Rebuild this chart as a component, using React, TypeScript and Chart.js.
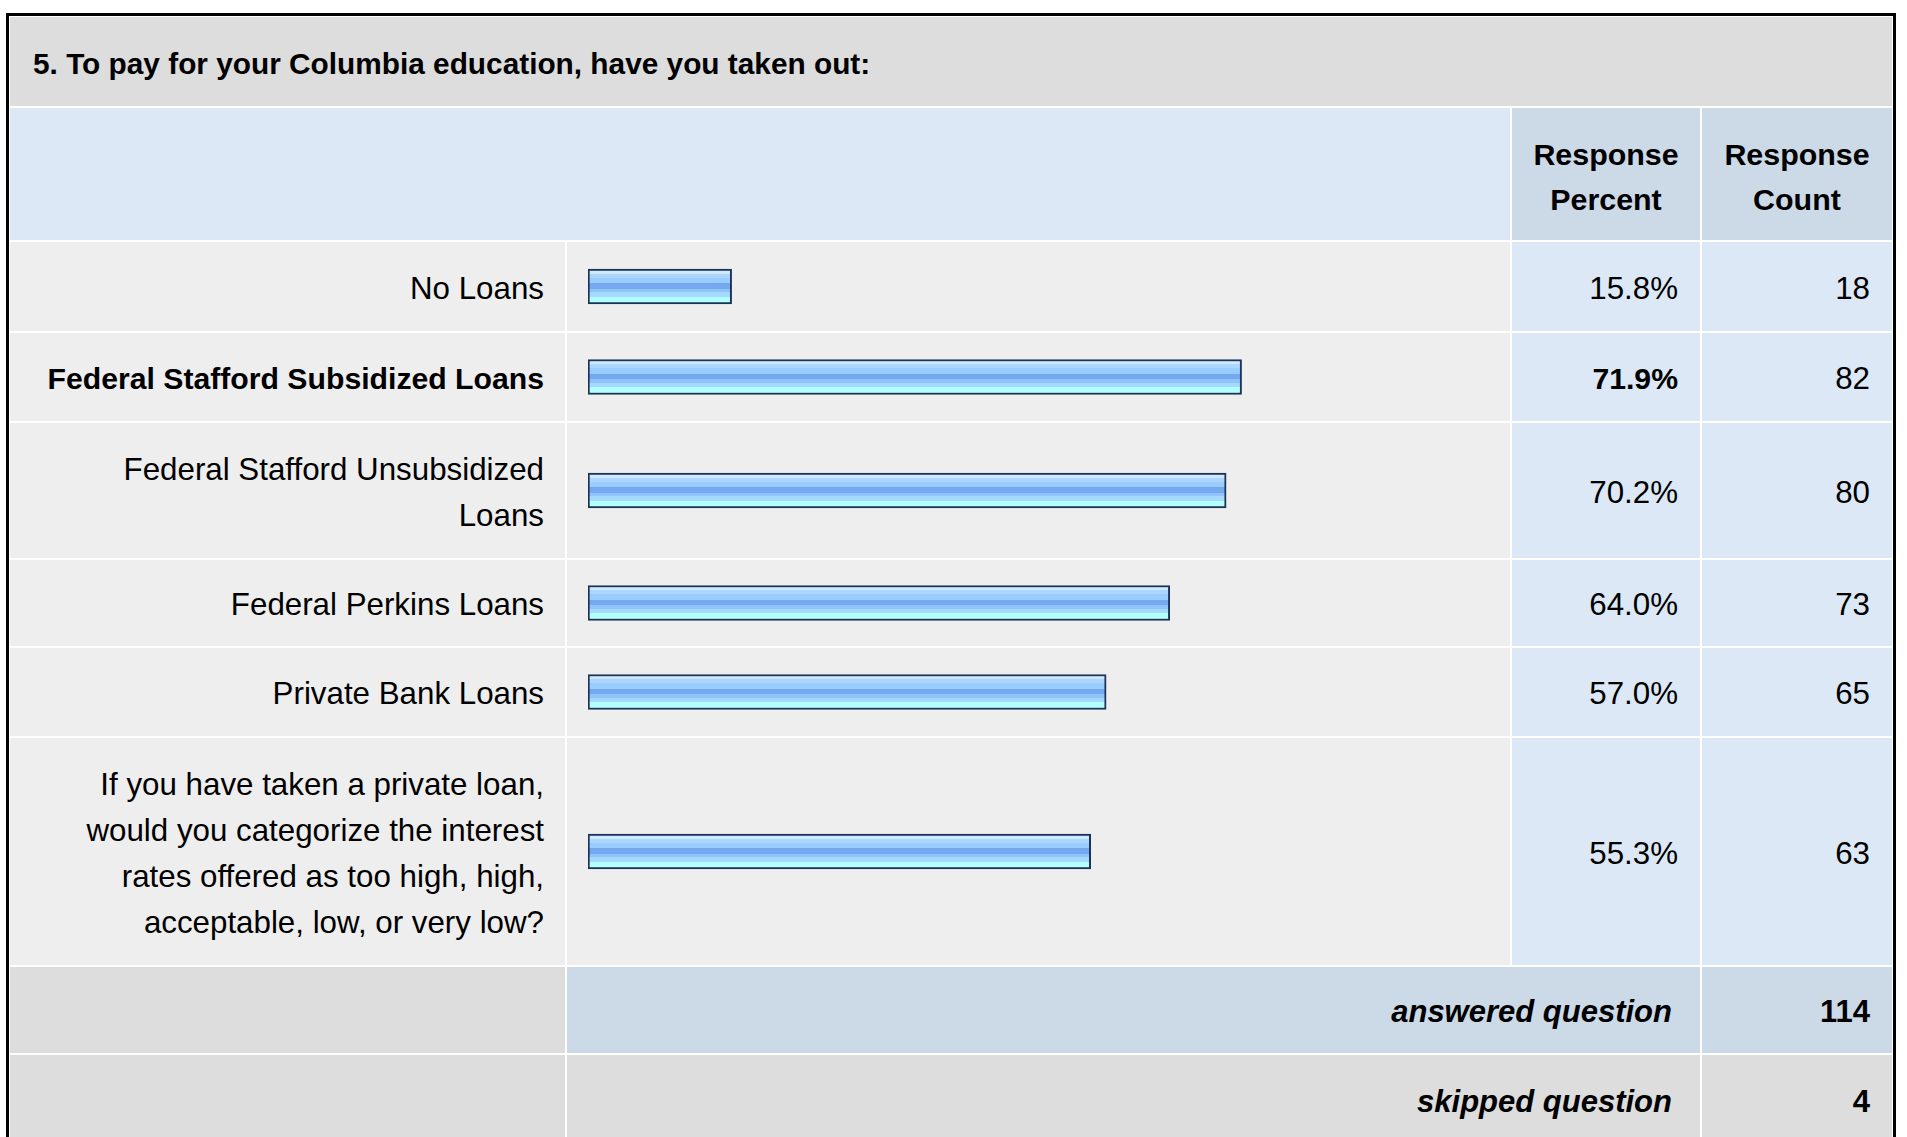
import React, { useEffect, useRef } from "react";
import { Chart, registerables } from "chart.js";

Chart.register(...registerables);

const questionTitle = "5. To pay for your Columbia education, have you taken out:";
const headerPercent = "Response\nPercent";
const headerCount = "Response\nCount";
const categories = [
  "No Loans",
  "Federal Stafford Subsidized Loans",
  "Federal Stafford Unsubsidized\nLoans",
  "Federal Perkins Loans",
  "Private Bank Loans",
  "If you have taken a private loan,\nwould you categorize the interest\nrates offered as too high, high,\nacceptable, low, or very low?",
];
const percents = [15.8, 71.9, 70.2, 64.0, 57.0, 55.3];
const counts = [18, 82, 80, 73, 65, 63];
const answeredLabel = "answered question";
const answeredCount = 114;
const skippedLabel = "skipped question";
const skippedCount = 4;

// layout (pixels)
const ROW_Y: [number, number][] = [
  [242, 331],
  [333, 421],
  [423, 558],
  [560, 646],
  [648, 736],
  [738, 965],
];
const COL = { l0: 10, l1: 565, b0: 567, b1: 1510, p0: 1512, p1: 1700, c0: 1702, c1: 1892 };
const FONT = '"Liberation Sans", Arial, Helvetica, sans-serif';
const REG_SIZE = 31.3;
const BOLD_SIZE = 30.2;

const BAR_STOPS: [number, string][] = [
  [0, "#CDE8FF"],
  [0.085, "#ADD6FF"],
  [0.21, "#99CCFF"],
  [0.4, "#74A9F0"],
  [0.57, "#8EC4FA"],
  [0.68, "#A6D9FF"],
  [0.83, "#B2FFFF"],
];

function Cell(props: {
  x1: number;
  y1: number;
  x2: number;
  y2: number;
  bg: string;
  justify?: string;
  pad?: number;
  style?: React.CSSProperties;
  children?: React.ReactNode;
}) {
  const { x1, y1, x2, y2, bg, justify = "flex-end", pad = 22, style, children } = props;
  return (
    <div
      style={{
        position: "absolute",
        left: x1,
        top: y1,
        width: x2 - x1,
        height: y2 - y1,
        background: bg,
        display: "flex",
        alignItems: "center",
        justifyContent: justify,
        boxSizing: "border-box",
        paddingLeft: pad,
        paddingRight: pad,
        fontFamily: FONT,
        fontSize: REG_SIZE,
        lineHeight: "46px",
        color: "#000",
        whiteSpace: "pre-line",
        ...style,
      }}
    >
      {children}
    </div>
  );
}

function BarCell(props: { label: string; value: number; width: number; height: number }) {
  const ref = useRef<HTMLCanvasElement | null>(null);
  useEffect(() => {
    if (!ref.current) return;
    const thickness = 35;
    const chart = new Chart(ref.current, {
      type: "bar",
      data: {
        labels: [props.label],
        datasets: [
          {
            data: [props.value],
            backgroundColor: (c: any) => {
              const ch = c.chart;
              const a = ch.chartArea;
              if (!a) return "#99CCFF";
              const mid = (a.top + a.bottom) / 2;
              const g = ch.ctx.createLinearGradient(0, mid - thickness / 2 + 2, 0, mid + thickness / 2 - 2);
              for (let i = 0; i < BAR_STOPS.length; i++) {
                const [pos, col] = BAR_STOPS[i];
                const next = i + 1 < BAR_STOPS.length ? BAR_STOPS[i + 1][0] : 1;
                g.addColorStop(pos, col);
                g.addColorStop(Math.max(pos, next - 0.0001), col);
              }
              return g;
            },
            borderColor: "#1C3357",
            borderWidth: 2,
            borderSkipped: false,
            barThickness: thickness,
          } as any,
        ],
      },
      options: {
        indexAxis: "y",
        responsive: false,
        maintainAspectRatio: false,
        animation: false,
        events: [],
        layout: { padding: { left: 21, right: 13, top: 0, bottom: 0 } },
        scales: {
          x: { display: false, min: 0, max: 100 },
          y: { display: false },
        },
        plugins: { legend: { display: false }, tooltip: { enabled: false } },
      },
    });
    return () => chart.destroy();
  }, [props.label, props.value, props.width, props.height]);
  return <canvas ref={ref} width={props.width} height={props.height} style={{ display: "block" }} />;
}

export default function App() {
  useEffect(() => {
    document.body.style.margin = "0";
  }, []);
  const maxIdx = percents.indexOf(Math.max(...percents));
  const ROW_BG = "#EEEEEE";
  const BLUE = "#DCE8F6";
  const BLUE_DARK = "#CCD9E7";
  const GRAY = "#DDDDDD";
  const boldStyle: React.CSSProperties = { fontWeight: "bold", fontSize: BOLD_SIZE };
  return (
    <div
      style={{
        position: "fixed",
        left: 0,
        top: 0,
        width: 1907,
        height: 1137,
        background: "#FFFFFF",
        overflow: "hidden",
      }}
    >
      <div
        style={{
          position: "absolute",
          left: 6,
          top: 13,
          width: 1896 - 6,
          height: 1200,
          border: "3px solid #000",
          boxSizing: "border-box",
          background: "#FFFFFF",
        }}
      />
      <Cell x1={COL.l0} y1={17} x2={COL.c1} y2={106} bg={GRAY} justify="flex-start" pad={23} style={{ ...boldStyle, fontSize: 29.8, paddingTop: 4 }}>
        {questionTitle}
      </Cell>
      <Cell x1={COL.l0} y1={108} x2={COL.b1} y2={240} bg={BLUE} />
      <Cell x1={COL.p0} y1={108} x2={COL.p1} y2={240} bg={BLUE_DARK} justify="center" pad={0} style={{ ...boldStyle, fontSize: 30.4, textAlign: "center", lineHeight: "45px", paddingTop: 5 }}>
        {headerPercent}
      </Cell>
      <Cell x1={COL.c0} y1={108} x2={COL.c1} y2={240} bg={BLUE_DARK} justify="center" pad={0} style={{ ...boldStyle, fontSize: 30.4, textAlign: "center", lineHeight: "45px", paddingTop: 5 }}>
        {headerCount}
      </Cell>
      {categories.map((cat, i) => {
        const [y1, y2] = ROW_Y[i];
        const bold = i === maxIdx;
        const weight: React.CSSProperties = bold ? boldStyle : {};
        return (
          <React.Fragment key={cat}>
            <Cell x1={COL.l0} y1={y1} x2={COL.l1} y2={y2} bg={ROW_BG} pad={21} style={{ textAlign: "right", paddingTop: 4, ...weight }}>
              {cat}
            </Cell>
            <div style={{ position: "absolute", left: COL.b0, top: y1, width: COL.b1 - COL.b0, height: y2 - y1, background: ROW_BG }}>
              <BarCell label={cat} value={percents[i]} width={COL.b1 - COL.b0} height={y2 - y1} />
            </div>
            <Cell x1={COL.p0} y1={y1} x2={COL.p1} y2={y2} bg={BLUE} style={{ paddingTop: 4, ...weight }}>
              {percents[i].toFixed(1) + "%"}
            </Cell>
            <Cell x1={COL.c0} y1={y1} x2={COL.c1} y2={y2} bg={BLUE} style={{ paddingTop: 4 }}>
              {String(counts[i])}
            </Cell>
          </React.Fragment>
        );
      })}
      <Cell x1={COL.l0} y1={967} x2={COL.l1} y2={1053} bg={GRAY} />
      <Cell x1={COL.b0} y1={967} x2={COL.p1} y2={1053} bg={BLUE_DARK} pad={28} style={{ ...boldStyle, fontSize: 31, fontStyle: "italic", paddingTop: 4 }}>
        {answeredLabel}
      </Cell>
      <Cell x1={COL.c0} y1={967} x2={COL.c1} y2={1053} bg={BLUE_DARK} style={{ ...boldStyle, fontSize: 31, paddingTop: 4 }}>
        {String(answeredCount)}
      </Cell>
      <Cell x1={COL.l0} y1={1055} x2={COL.l1} y2={1145} bg={GRAY} />
      <Cell x1={COL.b0} y1={1055} x2={COL.p1} y2={1145} bg={GRAY} pad={28} style={{ ...boldStyle, fontSize: 31, fontStyle: "italic", alignItems: "flex-start", paddingTop: 24 }}>
        {skippedLabel}
      </Cell>
      <Cell x1={COL.c0} y1={1055} x2={COL.c1} y2={1145} bg={GRAY} style={{ ...boldStyle, fontSize: 31, alignItems: "flex-start", paddingTop: 24 }}>
        {String(skippedCount)}
      </Cell>
    </div>
  );
}
